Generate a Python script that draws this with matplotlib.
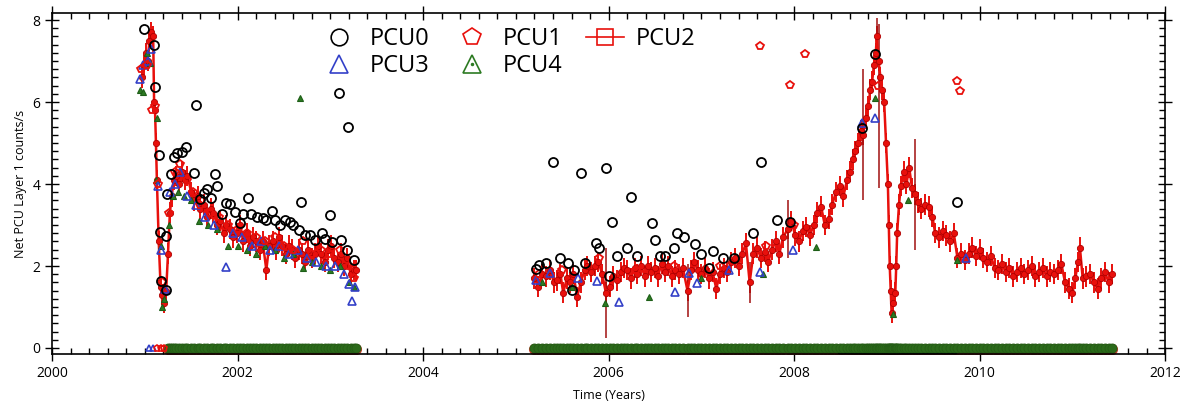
import numpy as np
import matplotlib
matplotlib.use("Agg")
import matplotlib.pyplot as plt
from matplotlib.lines import Line2D
from matplotlib.ticker import MultipleLocator

plt.rcParams['font.family'] = ['Open Sans', 'DejaVu Sans']

# PCU2 (ligne + barres d'erreur), partie 2001-2003
pcu2_t_early = [2000.97, 2000.99, 2001.01, 2001.03, 2001.05, 2001.07, 2001.09, 2001.10, 2001.11, 2001.12,
                2001.13, 2001.15, 2001.17, 2001.19, 2001.21, 2001.23, 2001.25, 2001.27, 2001.29, 2001.31,
                2001.34, 2001.37, 2001.40, 2001.43, 2001.46, 2001.50, 2001.53, 2001.57, 2001.60, 2001.64,
                2001.67, 2001.71, 2001.74, 2001.78, 2001.81, 2001.85, 2001.88, 2001.92, 2001.95, 2001.99,
                2002.03, 2002.06, 2002.10, 2002.13, 2002.17, 2002.20, 2002.24, 2002.27, 2002.31, 2002.34,
                2002.38, 2002.41, 2002.45, 2002.48, 2002.52, 2002.55, 2002.59, 2002.62, 2002.66, 2002.69,
                2002.73, 2002.76, 2002.80, 2002.83, 2002.87, 2002.90, 2002.94, 2002.97, 2003.01, 2003.04,
                2003.08, 2003.11, 2003.15, 2003.18, 2003.22, 2003.25, 2003.28]
pcu2_y_early = [6.6, 6.9, 7.2, 7.0, 7.5, 7.7, 7.6, 6.0, 5.8, 5.0,
                4.1, 2.6, 1.5, 1.3, 1.1, 1.4, 2.3, 3.3, 3.7, 4.1,
                4.2, 4.0, 4.3, 4.1, 4.2, 3.8, 3.6, 3.7, 3.4, 3.5,
                3.2, 3.4, 3.3, 3.0, 3.1, 2.8, 3.0, 2.9, 2.7, 2.8,
                3.0, 2.6, 2.8, 2.5, 2.7, 2.6, 2.4, 2.6, 1.9, 2.5,
                2.6, 2.4, 2.7, 2.5, 2.3, 2.5, 2.4, 2.2, 2.4, 2.3,
                2.1, 2.4, 2.2, 2.3, 2.5, 2.3, 2.1, 2.4, 2.5, 2.2,
                2.1, 2.3, 2.0, 2.2, 1.8, 1.9, 1.9]

# PCU2, partie 2005-2011
pcu2_t_late = [2005.20, 2005.24, 2005.28, 2005.33, 2005.37, 2005.41, 2005.44, 2005.48, 2005.51, 2005.55,
               2005.58, 2005.62, 2005.66, 2005.70, 2005.74, 2005.77, 2005.81, 2005.85, 2005.89, 2005.93,
               2005.97, 2006.01, 2006.05, 2006.09, 2006.13, 2006.17, 2006.20, 2006.24, 2006.28, 2006.31,
               2006.35, 2006.39, 2006.42, 2006.46, 2006.50, 2006.53, 2006.57, 2006.61, 2006.64, 2006.68,
               2006.72, 2006.76, 2006.80, 2006.85, 2006.89, 2006.92, 2006.96, 2007.00, 2007.04, 2007.08,
               2007.12, 2007.16, 2007.20, 2007.24, 2007.28, 2007.32, 2007.36, 2007.40, 2007.44, 2007.48,
               2007.52, 2007.56, 2007.60, 2007.64, 2007.68, 2007.72, 2007.76, 2007.80, 2007.84, 2007.88,
               2007.93, 2007.97, 2008.01, 2008.05, 2008.09, 2008.13, 2008.17, 2008.21, 2008.25, 2008.29,
               2008.33, 2008.37, 2008.41, 2008.45, 2008.49, 2008.53, 2008.57, 2008.60, 2008.63, 2008.66,
               2008.69, 2008.72, 2008.74, 2008.77, 2008.80, 2008.82, 2008.84, 2008.86, 2008.88, 2008.89,
               2008.91, 2008.93, 2008.95, 2008.97, 2008.99, 2009.01, 2009.02, 2009.03, 2009.04, 2009.05,
               2009.07, 2009.09, 2009.10, 2009.11, 2009.13, 2009.15, 2009.18, 2009.21, 2009.24, 2009.27,
               2009.30, 2009.33, 2009.37, 2009.41, 2009.45, 2009.49, 2009.52, 2009.56, 2009.60, 2009.64,
               2009.68, 2009.72, 2009.76, 2009.80, 2009.84, 2009.88, 2009.92, 2009.96, 2010.00, 2010.04,
               2010.08, 2010.12, 2010.16, 2010.20, 2010.24, 2010.28, 2010.32, 2010.36, 2010.40, 2010.44,
               2010.48, 2010.52, 2010.56, 2010.60, 2010.64, 2010.68, 2010.72, 2010.76, 2010.80, 2010.84,
               2010.88, 2010.92, 2010.96, 2011.00, 2011.03, 2011.06, 2011.08, 2011.11, 2011.15, 2011.19,
               2011.23, 2011.27, 2011.31, 2011.35, 2011.39, 2011.43]
pcu2_y_late = [1.7, 1.5, 1.8, 1.75, 1.9, 1.6, 1.65, 1.8, 1.35, 1.7,
               1.6, 1.8, 1.25, 1.6, 1.9, 2.0, 1.85, 2.0, 2.1, 1.8,
               1.35, 1.5, 1.75, 1.65, 1.85, 1.95, 1.9, 1.7, 1.95, 1.8,
               2.0, 1.75, 2.0, 1.85, 1.95, 1.75, 2.05, 1.85, 2.0, 1.75,
               1.9, 1.8, 1.95, 1.4, 1.9, 2.1, 1.9, 1.8, 1.95, 1.7,
               1.85, 1.45, 1.8, 1.95, 1.85, 2.1, 2.2, 2.0, 2.3, 2.55,
               1.6, 2.3, 2.45, 2.2, 2.35, 2.1, 2.4, 2.6, 2.3, 2.7,
               2.9, 3.1, 2.75, 2.6, 2.85, 2.95, 2.75, 3.0, 3.3, 3.45,
               3.0, 3.15, 3.5, 3.8, 3.95, 3.7, 4.1, 4.3, 4.6, 4.8,
               5.0, 5.3, 5.2, 5.6, 5.9, 6.3, 6.5, 6.9, 7.2, 7.6,
               7.0, 6.6, 6.3, 6.0, 5.0, 4.0, 3.0, 2.0, 1.4, 0.85,
               1.1, 1.35, 2.0, 2.8, 3.5, 3.95, 4.3, 4.0, 4.4, 3.9,
               3.75, 3.55, 3.4, 3.5, 3.45, 3.2, 2.8, 2.7, 2.85, 2.75,
               2.6, 2.8, 2.2, 2.3, 2.15, 2.3, 2.45, 2.25, 2.4, 2.2,
               2.1, 2.25, 1.95, 1.9, 2.05, 1.85, 1.95, 1.75, 1.85, 1.95,
               1.8, 1.9, 2.0, 1.75, 1.85, 1.95, 1.75, 1.85, 1.8, 1.9,
               2.05, 1.6, 1.45, 1.35, 1.7, 2.1, 2.45, 1.7, 1.75, 1.8,
               1.6, 1.45, 1.7, 1.85, 1.6, 1.8]
pcu2_err = 0.25

# barres d'erreur longues sur PCU2
big_t = [2005.97, 2006.85, 2007.52, 2007.93, 2008.74, 2008.89, 2008.91, 2009.30]
big_y = [1.35, 1.4, 1.6, 2.9, 5.2, 7.6, 5.9, 3.75]
big_err = [1.1, 0.65, 0.5, 0.7, 1.6, 0.45, 2.0, 1.35]

# PCU0 (cercles noirs)
pcu0_t = [2000.995, 2001.10, 2001.11, 2001.15, 2001.16, 2001.17, 2001.23, 2001.23, 2001.24, 2001.28,
          2001.31, 2001.35, 2001.40, 2001.44, 2001.55, 2001.53, 2001.59, 2001.64, 2001.67, 2001.71,
          2001.76, 2001.78, 2001.83, 2001.88, 2001.92, 2001.97, 2002.03, 2002.06, 2002.11, 2002.14,
          2002.21, 2002.27, 2002.31, 2002.37, 2002.40, 2002.46, 2002.51, 2002.57, 2002.60, 2002.66,
          2002.68, 2002.73, 2002.78, 2002.83, 2002.91, 2002.94, 2003.00, 2003.02, 2003.09, 2003.12,
          2003.18, 2003.19, 2003.25,
          2005.22, 2005.25, 2005.33, 2005.40, 2005.48, 2005.56, 2005.60, 2005.63, 2005.70, 2005.75,
          2005.86, 2005.90, 2005.97, 2006.00, 2006.04, 2006.09, 2006.20, 2006.24, 2006.31, 2006.47,
          2006.50, 2006.55, 2006.61, 2006.70, 2006.74, 2006.81, 2006.93, 2007.00, 2007.08, 2007.12,
          2007.23, 2007.35, 2007.56, 2007.64, 2007.81, 2007.95, 2008.73, 2008.87, 2009.75]
pcu0_y = [7.77, 7.40, 6.36, 4.70, 2.82, 1.63, 1.41, 2.72, 3.75, 4.24,
          4.67, 4.75, 4.79, 4.90, 5.92, 4.26, 3.63, 3.77, 3.87, 3.65,
          4.24, 3.95, 3.28, 3.54, 3.51, 3.32, 3.04, 3.28, 3.67, 3.28,
          3.20, 3.16, 3.12, 3.35, 3.12, 3.00, 3.12, 3.08, 3.00, 2.88,
          3.55, 2.76, 2.76, 2.63, 2.80, 2.67, 3.24, 2.59, 6.23, 2.63,
          2.39, 5.40, 2.15,
          1.92, 2.02, 2.07, 4.54, 2.19, 2.07, 1.41, 1.90, 4.28, 2.07,
          2.57, 2.43, 4.38, 1.75, 3.08, 2.24, 2.43, 3.69, 2.24, 3.04,
          2.63, 2.24, 2.24, 2.43, 2.81, 2.70, 2.54, 2.29, 1.94, 2.37,
          2.19, 2.19, 2.81, 4.54, 3.11, 3.08, 5.37, 7.16, 3.56]

# PCU1 (pentagones rouges)
pcu1_t = [2000.96, 2001.02, 2001.08, 2001.11, 2001.14, 2001.18, 2001.26, 2001.32, 2001.38, 2001.45,
          2001.52, 2001.60, 2001.70, 2001.80, 2001.90, 2002.00, 2002.10, 2002.20, 2002.30, 2002.40,
          2002.50, 2002.60, 2002.70, 2002.80, 2002.90, 2003.00, 2003.10, 2003.20, 2003.26,
          2005.25, 2005.50, 2005.90, 2006.30, 2006.70, 2007.20, 2007.63, 2007.70, 2007.96, 2008.00,
          2008.12, 2008.90, 2009.75, 2009.79]
pcu1_y = [6.8, 6.9, 5.8, 5.9, 4.0, 1.6, 3.3, 4.3, 4.5, 4.1,
          3.8, 3.5, 3.3, 3.2, 3.0, 2.9, 2.8, 2.7, 2.6, 2.7,
          2.5, 2.4, 2.6, 2.3, 2.4, 2.3, 2.4, 2.0, 1.7,
          1.8, 1.9, 2.2, 1.9, 2.0, 2.0, 7.37, 2.5, 6.41, 3.0,
          7.16, 6.4, 6.51, 6.28]

# PCU3 (triangles bleus)
pcu3_t = [2000.95, 2000.98, 2001.03, 2001.07, 2001.14, 2001.17, 2001.22, 2001.27, 2001.32, 2001.38,
          2001.45, 2001.55, 2001.65, 2001.75, 2001.87, 2001.95, 2002.05, 2002.15, 2002.25, 2002.35,
          2002.45, 2002.55, 2002.65, 2002.75, 2002.85, 2002.95, 2003.05, 2003.15, 2003.20, 2003.23,
          2003.27,
          2005.22, 2005.37, 2005.67, 2005.87, 2006.11, 2006.72, 2006.87, 2006.95, 2007.30, 2007.63,
          2007.99, 2008.73, 2008.87, 2009.85]
pcu3_y = [6.55, 6.9, 7.0, 7.3, 3.95, 2.4, 1.45, 3.8, 4.0, 4.3,
          3.7, 3.5, 3.2, 3.0, 1.98, 2.8, 2.7, 2.5, 2.6, 2.4,
          2.5, 2.3, 2.4, 2.2, 2.1, 2.0, 2.0, 1.8, 1.55, 1.14,
          1.5,
          1.67, 1.84, 1.7, 1.63, 1.13, 1.37, 1.84, 1.58, 1.9, 1.85,
          2.4, 5.5, 5.6, 2.2]

# PCU4 (triangles verts)
pcu4_t = [2000.95, 2000.98, 2001.02, 2001.06, 2001.12, 2001.13, 2001.17, 2001.19, 2001.21, 2001.26,
          2001.30, 2001.36, 2001.42, 2001.50, 2001.58, 2001.68, 2001.78, 2001.90, 2002.00, 2002.10,
          2002.20, 2002.30, 2002.40, 2002.50, 2002.60, 2002.67, 2002.70, 2002.80, 2002.90, 2003.00,
          2003.10, 2003.20, 2003.26,
          2005.28, 2005.60, 2005.96, 2006.43, 2007.00, 2007.66, 2008.23, 2008.87, 2009.06, 2009.23,
          2009.75]
pcu4_y = [6.3, 6.25, 7.2, 6.95, 4.1, 5.6, 2.5, 1.0, 1.2, 3.0,
          3.7, 3.8, 3.7, 3.6, 3.1, 3.0, 2.9, 2.5, 2.5, 2.4,
          2.3, 2.5, 2.4, 2.2, 2.3, 6.1, 1.95, 2.1, 2.0, 1.9,
          2.0, 1.6, 1.5,
          1.6, 1.5, 1.10, 1.25, 1.7, 1.80, 2.47, 6.09, 0.82, 3.61,
          2.15]

# valeurs nulles (PCU éteints)
zero_pcu3_t = [2001.05, 2001.09]
zero_pcu1_t = [2001.13, 2001.17, 2001.21]

c_red = '#e8100c'
c_blue = '#3340c8'
c_green = '#2c7a22'
c_zero = '#2b6a1a'

fig = plt.figure(figsize=(11.83, 4.08), dpi=100)
ax = fig.add_axes([0.044, 0.132, 0.941, 0.836])

t_early = np.array(pcu2_t_early)
t_late = np.array(pcu2_t_late)

# bande des zéros
early_on = t_early > 2001.24
for tt in [t_early[early_on], t_late]:
    ax.plot(tt, np.full(len(tt), -0.03), 'o', ms=7, color='#c0402a', zorder=1.8)
    ax.plot(tt, np.zeros(len(tt)), 'o', ms=6.5, mfc=c_zero, mec='#245c16', mew=0.6, zorder=2)
mask0 = (t_late > 2008.45) & (t_late < 2009.76)
ax.plot(t_late[mask0], np.full(mask0.sum(), -0.07), 's', ms=3.5, color='black', zorder=1.9)
ax.plot(zero_pcu3_t, np.zeros(len(zero_pcu3_t)), '^', ms=5, mfc='none', mec=c_blue, mew=1.2)
ax.plot(zero_pcu1_t, np.zeros(len(zero_pcu1_t)), 'p', ms=5, mfc='none', mec=c_red, mew=1.2)

# PCU2 : ligne rouge avec barres d'erreur
for tt, yy in [(pcu2_t_early, pcu2_y_early), (pcu2_t_late, pcu2_y_late)]:
    ax.errorbar(tt, yy, yerr=pcu2_err, color=c_red, lw=1.8, elinewidth=1.4, capsize=0,
                marker='o', ms=4.5, mfc=c_red, mec='#b00000', mew=0.6, zorder=3)
ax.errorbar(big_t, big_y, yerr=big_err, fmt='none', ecolor='#a01010', elinewidth=1.1,
            capsize=0, zorder=3)

ax.plot(pcu4_t, pcu4_y, '^', ms=5, mfc=c_green, mec='#1d5e17', mew=0.8, zorder=4)
ax.plot(pcu3_t, pcu3_y, '^', ms=5.5, mfc='none', mec=c_blue, mew=1.2, zorder=4)
ax.plot(pcu1_t, pcu1_y, 'p', ms=5.5, mfc='none', mec=c_red, mew=1.3, zorder=4)
ax.plot(pcu0_t, pcu0_y, 'o', ms=6.5, mfc='none', mec='black', mew=1.3, zorder=5)

ax.set_xlim(2000, 2012)
ax.set_ylim(-0.15, 8.17)
ax.xaxis.set_major_locator(MultipleLocator(2))
ax.xaxis.set_minor_locator(MultipleLocator(0.2))
ax.yaxis.set_major_locator(MultipleLocator(2))
ax.yaxis.set_minor_locator(MultipleLocator(0.2))
ax.tick_params(which='both', direction='in', top=True, right=True, labelsize=10, width=1)
ax.tick_params(which='major', direction='inout', length=10)
ax.tick_params(which='minor', length=4)
for s in ax.spines.values():
    s.set_linewidth(1.2)
ax.set_xlabel('Time (Years)', fontsize=9, labelpad=6)
ax.set_ylabel('Net PCU Layer 1 counts/s', fontsize=9, labelpad=4)

# légende (ordre en colonnes pour remplir ligne par ligne)
h0 = Line2D([], [], ls='none', marker='o', ms=12, mfc='none', mec='black', mew=1.2)
h1 = Line2D([], [], ls='none', marker='p', ms=13, mfc='none', mec=c_red, mew=1.2)
h2 = Line2D([], [], color=c_red, lw=1.2, marker='s', ms=12, mfc='none', mec=c_red, mew=1.2)
h3 = Line2D([], [], ls='none', marker='^', ms=13, mfc='none', mec=c_blue, mew=1.2)
h4a = Line2D([], [], ls='none', marker='^', ms=13, mfc='none', mec=c_green, mew=1.2)
h4b = Line2D([], [], ls='none', marker='.', ms=3, color=c_green)
ax.legend([h0, h3, h1, (h4a, h4b), h2], ['PCU0', 'PCU3', 'PCU1', 'PCU4', 'PCU2'],
          ncol=3, loc='upper left', bbox_to_anchor=(0.226, 1.008), frameon=False,
          fontsize=17, handlelength=1.6, handletextpad=0.5, columnspacing=1.0,
          labelspacing=0.15, borderaxespad=0.3)

fig.savefig('out.png', dpi=100)
